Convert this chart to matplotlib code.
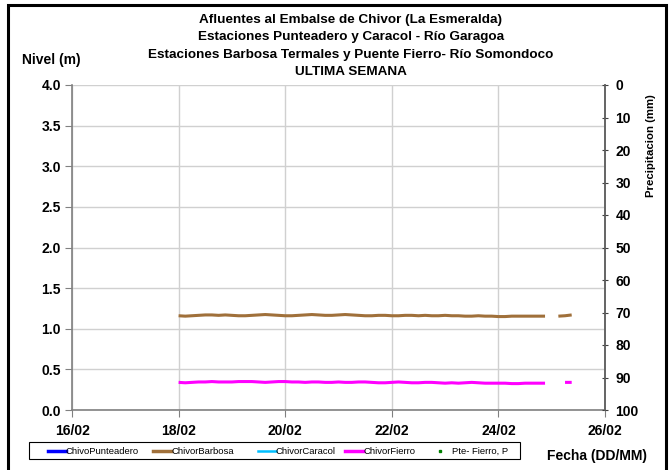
import numpy as np
import pandas as pd
import matplotlib
matplotlib.use("Agg")
import matplotlib.pyplot as plt
import matplotlib.dates as mdates
from matplotlib.lines import Line2D
from matplotlib.patches import Rectangle

plt.rcParams['font.family'] = ['Liberation Sans', 'DejaVu Sans']

# ---- data ----
title_lines = ["Afluentes al Embalse de Chivor (La Esmeralda)",
               "Estaciones Punteadero y Caracol - Río Garagoa",
               "Estaciones Barbosa Termales y Puente Fierro- Río Somondoco",
               "ULTIMA SEMANA"]
times = pd.date_range("2024-02-18 00:00", "2024-02-25 09:00", freq="3h")
nan = np.nan
barbosa = [1.16, 1.155, 1.16, 1.165, 1.17, 1.17, 1.165, 1.17,
           1.165, 1.16, 1.16, 1.165, 1.17, 1.175, 1.17, 1.165,
           1.16, 1.16, 1.165, 1.17, 1.175, 1.17, 1.165, 1.165,
           1.17, 1.175, 1.17, 1.165, 1.16, 1.16, 1.165, 1.165,
           1.16, 1.16, 1.165, 1.165, 1.16, 1.165, 1.16, 1.16,
           1.165, 1.16, 1.16, 1.155, 1.155, 1.16, 1.155, 1.155,
           1.15, 1.15, 1.155, 1.155, 1.155, 1.155, 1.155, 1.155,
           nan, 1.155, 1.16, 1.17]
fierro = [0.34, 0.335, 0.34, 0.345, 0.345, 0.35, 0.345, 0.345,
          0.345, 0.35, 0.35, 0.35, 0.345, 0.34, 0.345, 0.35,
          0.35, 0.345, 0.345, 0.34, 0.345, 0.345, 0.34, 0.34,
          0.345, 0.34, 0.34, 0.345, 0.345, 0.34, 0.335, 0.335,
          0.34, 0.345, 0.34, 0.335, 0.335, 0.34, 0.34, 0.335,
          0.33, 0.335, 0.33, 0.335, 0.34, 0.335, 0.33, 0.33,
          0.33, 0.33, 0.325, 0.325, 0.33, 0.33, 0.33, 0.33,
          nan, nan, 0.34, 0.34]
series_names = ["ChivoPunteadero", "ChivorBarbosa", "ChivorCaracol", "ChivorFierro", "Pte- Fierro, P"]
series_colors = ["#0000FF", "#A0703A", "#00BFFF", "#FF00FF", "#008000"]
x_start, x_end = "2024-02-16", "2024-02-26"
y_ticks = [0.0, 0.5, 1.0, 1.5, 2.0, 2.5, 3.0, 3.5, 4.0]
p_ticks = list(range(0, 101, 10))

W, H = 671, 470
fig = plt.figure(figsize=(W/100, H/100), dpi=100)
ax = fig.add_axes([72/W, 1-410/H, (605-72)/W, (410-85)/H])

ax.plot(times, barbosa, color=series_colors[1], lw=2.2, solid_capstyle='butt', zorder=3)
ax.plot(times, fierro, color=series_colors[3], lw=2.2, solid_capstyle='butt', zorder=3)

ax.set_xlim(pd.Timestamp(x_start), pd.Timestamp(x_end))
ax.set_ylim(0, 4.0)
ax.set_yticks(y_ticks)
ax.set_yticklabels([f"{v:.1f}" for v in y_ticks])
ax.xaxis.set_major_locator(mdates.DayLocator(bymonthday=range(2, 32, 2)))
ax.xaxis.set_major_formatter(mdates.DateFormatter("%d/%m"))
ax.grid(True, color="#d0d0d0", lw=1.0)
ax.set_axisbelow(True)
ax.spines["top"].set_visible(False)
for s in ["left", "bottom", "right"]:
    ax.spines[s].set_color("#808080")
    ax.spines[s].set_linewidth(1.2)
ax.tick_params(axis='both', which='major', length=5, color="#808080",
               labelsize=10, pad=3)
ax.tick_params(axis='x', direction='out', pad=5)
for lab in ax.get_xticklabels() + ax.get_yticklabels():
    lab.set_fontweight('bold')

ax2 = ax.twinx()
ax2.set_ylim(100, 0)
ax2.set_yticks(p_ticks)
ax2.tick_params(axis='y', length=5, direction='inout', color="#404040", labelsize=10, pad=5)
for lab in ax2.get_yticklabels():
    lab.set_fontweight('bold')
for s in ["top", "left", "bottom"]:
    ax2.spines[s].set_visible(False)
ax2.spines["right"].set_color("#606060")
ax2.spines["right"].set_linewidth(1.2)
ax2.set_ylabel("Precipitacion (mm)", fontsize=8.2, fontweight='bold')
ax2.yaxis.set_label_coords((646 - 72)/(605 - 72), (410 - 146)/(410 - 85))

for i, t in enumerate(title_lines):
    fig.text(351/W, 1 - (20 + i*17.3)/H, t, ha='center', va='center',
             fontsize=9.7, fontweight='bold')
fig.text(22/W, 1 - 60/H, "Nivel (m)", ha='left', va='center', fontsize=10, fontweight='bold')
fig.text(597/W, 1 - 456/H, "Fecha (DD/MM)", ha='center', va='center', fontsize=10, fontweight='bold')

# legend (manual layout, Excel-like)
fig.patches.append(Rectangle((29/W, 1 - 459/H), (520-29)/W, 17/H,
                             transform=fig.transFigure, fill=False,
                             edgecolor='black', lw=0.8))
entry_x = [48, 153, 258, 345, 440]
ly = 1 - 451/H
for i, (name, col) in enumerate(zip(series_names, series_colors)):
    x0 = entry_x[i]
    if i < 4:
        fig.add_artist(Line2D([x0/W, (x0+18)/W], [ly, ly], color=col,
                              lw=2.5 if i != 2 else 1.8, transform=fig.transFigure))
        fig.text((x0+18)/W, ly, name, ha='left', va='center', fontsize=6.8)
    else:
        fig.add_artist(Line2D([x0/W], [ly], color=col, marker='s', markersize=1.6,
                              lw=0, transform=fig.transFigure))
        fig.text((x0+12)/W, ly, name, ha='left', va='center', fontsize=6.8)

fig.patches.append(Rectangle((8/W, -0.05), (666-8)/W, 1.05 - 5/H,
                             transform=fig.transFigure, fill=False,
                             edgecolor='black', lw=2.2))

fig.savefig("out.png", dpi=100)
